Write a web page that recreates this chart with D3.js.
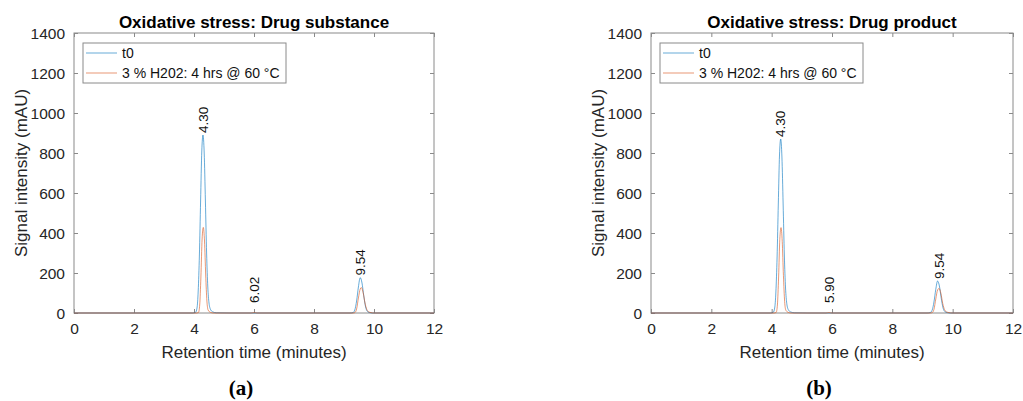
<!DOCTYPE html>
<html>
<head>
<meta charset="utf-8">
<script src="https://cdn.jsdelivr.net/npm/d3@7"></script>
<style>
  html, body { margin: 0; padding: 0; background: #fff; }
  svg { display: block; font-family: "Liberation Sans", Arial, sans-serif; }
</style>
</head>
<body>
<svg id="fig" width="1023" height="401"></svg>
<script>
// Axis ticks
const timeTicks = [0, 2, 4, 6, 8, 10, 12];
const intensityTicks = [0, 200, 400, 600, 800, 1000, 1200, 1400];

// Legend entries
const seriesNames = ["t0", "3 % H202: 4 hrs @ 60 °C"];

// Panel (a): drug substance — chromatogram points (minutes, mAU)
const substanceT0Time = [0, 3.95, 4.05, 4.10, 4.14, 4.18, 4.22, 4.26, 4.30, 4.34, 4.38, 4.42, 4.46, 4.50, 4.55, 4.62, 4.75, 5.2, 9.2, 9.30, 9.36, 9.42, 9.48, 9.54, 9.60, 9.66, 9.72, 9.78, 9.85, 9.95, 12];
const substanceT0Value = [0, 0, 3, 25, 110, 290, 560, 810, 890, 800, 560, 300, 130, 50, 18, 6, 1, 0, 0, 2, 15, 60, 130, 177, 150, 85, 30, 8, 2, 0, 0];
const substanceStressTime = [0, 4.08, 4.15, 4.19, 4.23, 4.27, 4.31, 4.35, 4.39, 4.43, 4.47, 4.55, 4.65, 5.9, 6.02, 6.1, 9.3, 9.36, 9.42, 9.48, 9.54, 9.58, 9.64, 9.70, 9.76, 9.82, 9.90, 10.0, 12];
const substanceStressValue = [0, 0, 3, 40, 180, 370, 428, 360, 190, 60, 15, 3, 0, 0, 2, 0, 0, 2, 20, 75, 120, 127, 100, 50, 18, 6, 2, 0, 0];
const substanceLabelTime = [4.30, 6.02, 9.54];
const substanceLabelText = ["4.30", "6.02", "9.54"];
const substanceLabelHeight = [890, 40, 177];

// Panel (b): drug product — chromatogram points (minutes, mAU)
const productT0Time = [0, 3.95, 4.05, 4.10, 4.14, 4.18, 4.22, 4.26, 4.30, 4.34, 4.38, 4.42, 4.46, 4.50, 4.55, 4.62, 4.75, 5.2, 9.15, 9.25, 9.32, 9.38, 9.44, 9.50, 9.56, 9.62, 9.68, 9.74, 9.82, 9.92, 12];
const productT0Value = [0, 0, 3, 25, 105, 280, 545, 790, 870, 780, 545, 290, 125, 48, 17, 6, 1, 0, 0, 2, 14, 55, 118, 160, 135, 75, 26, 7, 2, 0, 0];
const productStressTime = [0, 4.08, 4.15, 4.19, 4.23, 4.27, 4.31, 4.35, 4.39, 4.43, 4.47, 4.55, 4.65, 5.8, 5.90, 6.0, 9.25, 9.32, 9.38, 9.44, 9.50, 9.55, 9.61, 9.67, 9.73, 9.80, 9.88, 9.98, 12];
const productStressValue = [0, 0, 3, 40, 180, 368, 427, 358, 188, 58, 14, 3, 0, 0, 2, 0, 0, 2, 18, 70, 115, 123, 98, 48, 17, 5, 2, 0, 0];
const productLabelTime = [4.30, 5.90, 9.54];
const productLabelText = ["4.30", "5.90", "9.54"];
const productLabelHeight = [870, 40, 160];

const panels = [
  { title: "Oxidative stress: Drug substance", caption: "(a)", left: 74, right: 434,
    traces: [[substanceT0Time, substanceT0Value], [substanceStressTime, substanceStressValue]],
    labels: [substanceLabelTime, substanceLabelText, substanceLabelHeight] },
  { title: "Oxidative stress: Drug product", caption: "(b)", left: 651, right: 1013,
    traces: [[productT0Time, productT0Value], [productStressTime, productStressValue]],
    labels: [productLabelTime, productLabelText, productLabelHeight] }
];

const colors = ["#0072BD", "#D95319"];
const plotTop = 33, plotBottom = 313;
const boxColor = "#8a8a8a", textColor = "#262626";
const svg = d3.select("#fig");

panels.forEach(p => {
  const x = d3.scaleLinear().domain([0, 12]).range([p.left, p.right]);
  const y = d3.scaleLinear().domain([0, 1400]).range([plotBottom, plotTop]);
  const g = svg.append("g");
  const w = p.right - p.left, h = plotBottom - plotTop;

  // Box
  g.append("rect").attr("x", p.left).attr("y", plotTop).attr("width", w).attr("height", h)
    .attr("fill", "none").attr("stroke", boxColor).attr("stroke-width", 1);

  // Inward ticks on all four sides
  const tl = 4;
  const fmt = d3.format("d");
  const xb = g.append("g").attr("transform", `translate(0,${plotBottom})`)
    .call(d3.axisBottom(x).tickValues(timeTicks).tickFormat(fmt).tickSizeInner(-tl).tickSizeOuter(0).tickPadding(10));
  const xt = g.append("g").attr("transform", `translate(0,${plotTop})`)
    .call(d3.axisTop(x).tickValues(timeTicks).tickSizeInner(-tl).tickSizeOuter(0).tickFormat(""));
  const yl = g.append("g").attr("transform", `translate(${p.left},0)`)
    .call(d3.axisLeft(y).tickValues(intensityTicks).tickFormat(fmt).tickSizeInner(-tl).tickSizeOuter(0).tickPadding(9));
  const yr = g.append("g").attr("transform", `translate(${p.right},0)`)
    .call(d3.axisRight(y).tickValues(intensityTicks).tickSizeInner(-tl).tickSizeOuter(0).tickFormat(""));
  [xb, xt, yl, yr].forEach(a => {
    a.select(".domain").remove();
    a.selectAll("line").attr("stroke", boxColor);
    a.selectAll("text").attr("fill", textColor).style("font-size", "15.5px")
      .style("font-family", "'Liberation Sans', Arial, sans-serif");
  });
  yl.selectAll("text").attr("dy", "0.35em");

  // Traces
  const line = d3.line().x(d => x(d[0])).y(d => y(d[1])).curve(d3.curveMonotoneX);
  p.traces.forEach((tr, i) => {
    const pts = tr[0].map((t, k) => [t, tr[1][k]]);
    g.append("path").datum(pts).attr("d", line).attr("fill", "none")
      .attr("stroke", colors[i]).attr("stroke-width", 0.8).attr("stroke-opacity", 0.75);
  });

  // Peak retention-time labels
  const [lt, ltxt, lh] = p.labels;
  lt.forEach((t, k) => {
    g.append("text").attr("transform", `translate(${x(t)},${y(lh[k]) - 2}) rotate(-90)`)
      .attr("dy", "0.35em").attr("text-anchor", "start").attr("fill", "#111")
      .style("font-size", "13.5px").text(ltxt[k]);
  });

  // Legend
  const lx = p.left + 9, ly = plotTop + 10;
  const lg = g.append("g");
  lg.append("rect").attr("x", lx).attr("y", ly).attr("width", 203).attr("height", 40)
    .attr("fill", "#fff").attr("stroke", boxColor).attr("stroke-width", 1);
  seriesNames.forEach((name, i) => {
    const ry = ly + 10 + i * 20;
    lg.append("line").attr("x1", lx + 3).attr("x2", lx + 34).attr("y1", ry).attr("y2", ry)
      .attr("stroke", colors[i]).attr("stroke-width", 0.8).attr("stroke-opacity", 0.75);
    lg.append("text").attr("x", lx + 39).attr("y", ry).attr("dy", "0.35em")
      .attr("fill", "#111").style("font-size", "14px").text(name);
  });

  // Title, axis labels, caption
  g.append("text").attr("x", (p.left + p.right) / 2).attr("y", 28).attr("text-anchor", "middle")
    .style("font-size", "17px").style("font-weight", "bold").attr("fill", "#000").text(p.title);
  g.append("text").attr("x", (p.left + p.right) / 2).attr("y", 358).attr("text-anchor", "middle")
    .style("font-size", "17px").attr("fill", textColor).text("Retention time (minutes)");
  g.append("text").attr("transform", `translate(${p.left - 47},${(plotTop + plotBottom) / 2}) rotate(-90)`)
    .attr("text-anchor", "middle").style("font-size", "17px").attr("fill", textColor)
    .text("Signal intensity (mAU)");
  g.append("text").attr("x", (p.left + p.right) / 2 - 13).attr("y", 395).attr("text-anchor", "middle")
    .style("font-family", "'Liberation Serif', 'DejaVu Serif', serif").style("font-weight", "bold")
    .style("font-size", "21px").attr("fill", "#000").text(p.caption);
});
</script>
</body>
</html>
